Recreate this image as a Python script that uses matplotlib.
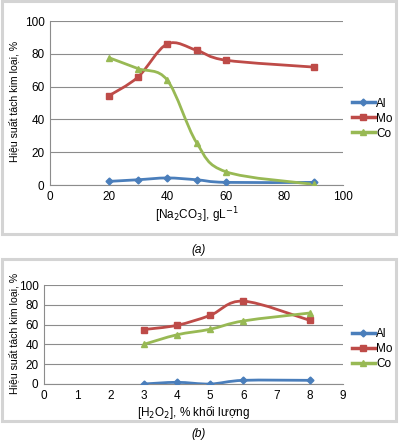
import matplotlib
matplotlib.use("Agg")
import matplotlib.pyplot as plt
from matplotlib.path import Path
from matplotlib.patches import PathPatch, Rectangle
from matplotlib.lines import Line2D

plt.rcParams['font.family'] = ['Liberation Sans', 'DejaVu Sans']

# (a) effect of Na2CO3 concentration
na2co3 = [20, 30, 40, 50, 60, 90]
al_a = [2.2, 3.2, 4.3, 3.2, 1.6, 1.6]
mo_a = [54.3, 65.8, 86.0, 82.2, 76.1, 71.9]
co_a = [77.7, 71.0, 64.0, 25.9, 8.1, 0.4]

# (b) effect of H2O2 concentration
h2o2 = [3, 4, 5, 6, 8]
al_b = [0.0, 1.7, 0.0, 3.7, 3.7]
mo_b = [55.0, 59.3, 69.3, 83.7, 64.3]
co_b = [40.0, 49.7, 55.3, 63.7, 71.7]

series_names = ["Al", "Mo", "Co"]
colors = ["#4A7EBB", "#BE4B48", "#98B954"]
markers = ["D", "s", "^"]
msizes = [3.5, 5, 5]


def smooth_path(xs, ys):
    # Excel-like smoothed line: cubic bezier through every point
    pts = list(zip(xs, ys))
    n = len(pts)
    verts = [pts[0]]
    codes = [Path.MOVETO]
    for i in range(n - 1):
        p0 = pts[i - 1] if i > 0 else pts[i]
        p1 = pts[i]
        p2 = pts[i + 1]
        p3 = pts[i + 2] if i + 2 < n else pts[i + 1]
        c1 = (p1[0] + (p2[0] - p0[0]) / 6, p1[1] + (p2[1] - p0[1]) / 6)
        c2 = (p2[0] - (p3[0] - p1[0]) / 6, p2[1] - (p3[1] - p1[1]) / 6)
        verts += [c1, c2, p2]
        codes += [Path.CURVE4] * 3
    return Path(verts, codes)


def draw_panel(ax, x, data, xlim, xticks, xlabel, leg_y, ylab_xy):
    for ys, c, m, ms in zip(data, colors, markers, msizes):
        ax.add_patch(PathPatch(smooth_path(x, ys), facecolor='none',
                               edgecolor=c, lw=2.0, zorder=3))
        ax.plot(x, ys, linestyle='none', marker=m, color=c, ms=ms, zorder=4)
    ax.set_xlim(*xlim)
    ax.set_ylim(0, 100)
    ax.set_xticks(xticks)
    ax.set_yticks(range(0, 101, 20))
    ax.grid(axis='y', color='#8c8c8c', lw=0.8)
    ax.set_axisbelow(True)
    for s in ['top', 'right']:
        ax.spines[s].set_visible(False)
    for s in ['left', 'bottom']:
        ax.spines[s].set_color('#8c8c8c')
        ax.spines[s].set_linewidth(0.8)
    ax.tick_params(length=0, labelsize=8.5, pad=4)
    ax.set_xlabel(xlabel, fontsize=8.5, labelpad=2)
    ax.set_ylabel("Hiệu suất tách kim loại, %", fontsize=7.6)
    ax.yaxis.set_label_coords(*ylab_xy)
    handles = [Line2D([], [], color=c, marker=m, ms=ms, lw=2.5)
               for c, m, ms in zip(colors, markers, msizes)]
    ax.legend(handles, series_names, loc='center left',
              bbox_to_anchor=(1.015, leg_y), frameon=False, fontsize=8.5,
              handlelength=1.9, handletextpad=0.15, labelspacing=0.25,
              borderaxespad=0)


fig = plt.figure(figsize=(3.99, 4.42), dpi=100)

# panel frames
W, H = 399.0, 442.0
for (x0, y0, x1, y1) in [(2, 1, 396, 234), (2, 259, 396, 421)]:
    fig.patches.append(Rectangle((x0 / W, 1 - y1 / H), (x1 - x0) / W,
                                 (y1 - y0) / H, transform=fig.transFigure,
                                 facecolor='none', edgecolor='#d4d4d4',
                                 lw=2.2))

ax1 = fig.add_axes([50 / W, 1 - 185 / H, 293 / W, 164 / H])
draw_panel(ax1, na2co3, [al_a, mo_a, co_a], (0, 100), range(0, 101, 20),
           "[Na$_2$CO$_3$], gL$^{-1}$", 0.405, (-0.104, 0.512))

ax2 = fig.add_axes([44 / W, 1 - 384 / H, 299 / W, 99 / H])
draw_panel(ax2, h2o2, [al_b, mo_b, co_b], (0, 9), range(0, 10),
           "[H$_2$O$_2$], % khối lượng", 0.35, (-0.082, 0.515))

fig.text(199 / W, 1 - 250 / H, "(a)", ha='center', va='center',
         style='italic', fontsize=8.5)
fig.text(199 / W, 1 - 434 / H, "(b)", ha='center', va='center',
         style='italic', fontsize=8.5)

fig.savefig("out.png", dpi=100)
